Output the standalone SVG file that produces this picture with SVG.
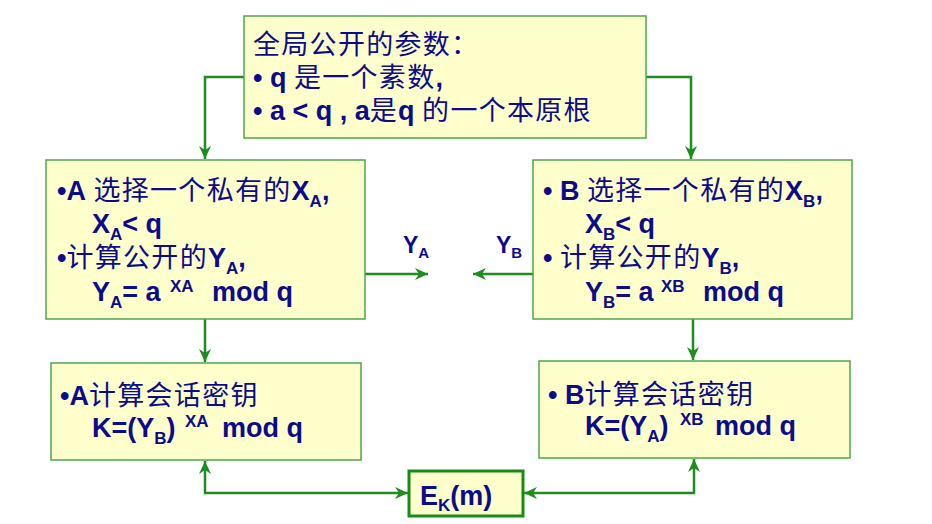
<svg xmlns="http://www.w3.org/2000/svg" width="932" height="524" viewBox="0 0 932 524">
<style>
.box{fill:#FFFFCC;stroke:#4CA64C;stroke-width:1.5}
.ek{fill:#FFFFCC;stroke:#168C16;stroke-width:3}
.t{font-family:"Liberation Sans","Noto Sans CJK SC",sans-serif;font-size:27px;fill:#0B0B8C}
.k{letter-spacing:1.3px;font-weight:normal}
.b{font-weight:bold}
.s{font-size:17px;font-weight:bold}
.c{fill:none;stroke:#1E8C1E;stroke-width:2.5}
.lbl{font-family:"Liberation Sans",sans-serif;font-size:23px;font-weight:bold;fill:#0B0B8C}
</style>
<defs>
<marker id="ah" markerUnits="userSpaceOnUse" markerWidth="14" markerHeight="12" viewBox="0 0 14 12" refX="13" refY="6" orient="auto-start-reverse">
<path d="M0,0 L13,6 L0,12 L4,6 z" fill="#1E8C1E"/>
</marker>
</defs>
<rect width="932" height="524" fill="#FFFFFF"/>
<g id="connectors">
<path class="c" d="M244,77 H205 V159" marker-end="url(#ah)"/>
<path class="c" d="M646,77 H691 V159" marker-end="url(#ah)"/>
<path class="c" d="M205,319 V362" marker-end="url(#ah)"/>
<path class="c" d="M693,319 V360" marker-end="url(#ah)"/>
<path class="c" d="M365,274 H428" marker-end="url(#ah)"/>
<path class="c" d="M533,274 H473" marker-end="url(#ah)"/>
<path class="c" d="M408,493 H205 V461" marker-start="url(#ah)" marker-end="url(#ah)"/>
<path class="c" d="M524,493 H694 V459" marker-start="url(#ah)" marker-end="url(#ah)"/>
<text class="lbl" x="403" y="253">Y<tspan font-size="15" dy="5">A</tspan></text>
<text class="lbl" x="496" y="253">Y<tspan font-size="15" dy="5">B</tspan></text>
</g>
<g id="params">
<rect class="box" x="244" y="16" width="402" height="122"/>
<text class="t" x="253" y="54"><tspan class="k">全局公开的参数：</tspan></text>
<text class="t" x="253" y="87"><tspan class="b">• q</tspan> <tspan class="k">是一个素数</tspan><tspan class="b">,</tspan></text>
<text class="t" x="253" y="120"><tspan class="b">• a &lt; q , a</tspan><tspan class="k">是</tspan><tspan class="b">q</tspan> <tspan class="k">的一个本原根</tspan></text>
</g>
<g id="nodeA">
<rect class="box" x="46" y="160" width="319" height="159"/>
<text class="t" x="57" y="200"><tspan class="b">•A</tspan> <tspan class="k">选择一个私有的</tspan><tspan class="b">X</tspan><tspan class="s" dy="7">A</tspan><tspan class="b" dy="-7">,</tspan></text>
<text class="t b" x="92" y="233">X<tspan class="s" dy="7">A</tspan><tspan dy="-7">&lt; q</tspan></text>
<text class="t" x="57" y="267"><tspan class="b">•</tspan><tspan class="k">计算公开的</tspan><tspan class="b">Y</tspan><tspan class="s" dy="7">A</tspan><tspan class="b" dy="-7">,</tspan></text>
<text class="t b" x="92" y="301">Y<tspan class="s" dy="7">A</tspan><tspan dy="-7">= a</tspan><tspan class="s" x="170" dy="-9">XA</tspan><tspan x="212" dy="9">mod q</tspan></text>
</g>
<g id="nodeB">
<rect class="box" x="533" y="160" width="319" height="159"/>
<text class="t" x="543" y="200"><tspan class="b">• B</tspan> <tspan class="k">选择一个私有的</tspan><tspan class="b">X</tspan><tspan class="s" dy="7">B</tspan><tspan class="b" dy="-7">,</tspan></text>
<text class="t b" x="585" y="233">X<tspan class="s" dy="7">B</tspan><tspan dy="-7">&lt; q</tspan></text>
<text class="t" x="543" y="267"><tspan class="b">•</tspan> <tspan class="k">计算公开的</tspan><tspan class="b">Y</tspan><tspan class="s" dy="7">B</tspan><tspan class="b" dy="-7">,</tspan></text>
<text class="t b" x="585" y="301">Y<tspan class="s" dy="7">B</tspan><tspan dy="-7">= a</tspan><tspan class="s" x="661" dy="-9">XB</tspan><tspan x="703" dy="9">mod q</tspan></text>
</g>
<g id="keyA">
<rect class="box" x="51" y="363" width="310" height="97"/>
<text class="t" x="60" y="405"><tspan class="b">•A</tspan><tspan class="k">计算会话密钥</tspan></text>
<text class="t b" x="92" y="437">K=(Y<tspan class="s" dy="7">B</tspan><tspan dy="-7">)</tspan><tspan class="s" x="185" dy="-10">XA</tspan><tspan x="222" dy="10">mod q</tspan></text>
</g>
<g id="keyB">
<rect class="box" x="539" y="361" width="311" height="97"/>
<text class="t" x="548" y="404"><tspan class="b">• B</tspan><tspan class="k">计算会话密钥</tspan></text>
<text class="t b" x="585" y="435">K=(Y<tspan class="s" dy="7">A</tspan><tspan dy="-7">)</tspan><tspan class="s" x="680" dy="-10">XB</tspan><tspan x="715" dy="10">mod q</tspan></text>
</g>
<g id="ek">
<rect class="ek" x="409" y="471" width="114" height="45"/>
<text class="t b" x="420" y="505">E<tspan class="s" dy="6">K</tspan><tspan dy="-6">(m)</tspan></text>
</g>
</svg>
